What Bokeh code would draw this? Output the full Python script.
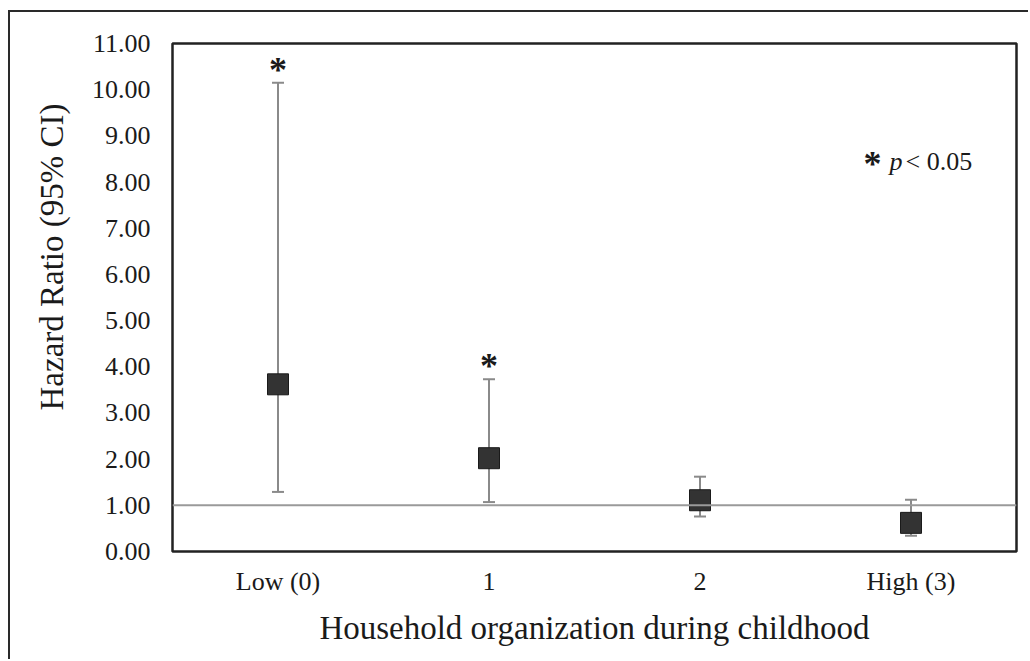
from bokeh.plotting import figure
from bokeh.models import (ColumnDataSource, FactorRange, Range1d, Whisker, TeeHead,
                          Span, FixedTicker, NumeralTickFormatter, Label, Title)
from bokeh.core.properties import value
from bokeh.embed import file_html
from bokeh.resources import INLINE

categories = ["Low (0)", "1", "2", "High (3)"]
hazard_ratio = [3.62, 2.02, 1.11, 0.62]
ci_lower = [1.29, 1.07, 0.76, 0.34]
ci_upper = [10.15, 3.73, 1.62, 1.12]
significant = [True, True, False, False]
y_ticks = list(range(0, 12))
reference_value = 1.0
y_title = "Hazard Ratio (95% CI)"
x_title = "Household organization during childhood"

FONT = "Liberation Serif"
TXT = "#1a1a1a"

src = ColumnDataSource(dict(cat=categories, hr=hazard_ratio, lo=ci_lower, up=ci_upper))
sig_cats = [c for c, s in zip(categories, significant) if s]
sig_up = [u for u, s in zip(ci_upper, significant) if s]
star_src = ColumnDataSource(dict(cat=sig_cats, up=sig_up, t=["*"] * len(sig_cats)))

p = figure(width=1020, height=649, output_backend="svg", toolbar_location=None,
           x_range=FactorRange(factors=categories, range_padding=0),
           y_range=Range1d(0, 11),
           min_border_left=162, min_border_right=14, min_border_top=31, min_border_bottom=110,
           styles={"border-top": "2px solid #2a2a2a", "border-left": "2px solid #2a2a2a",
                   "margin-left": "8px", "margin-top": "10px"})

p.outline_line_color = "#222222"
p.outline_line_width = 2.5
p.xgrid.grid_line_color = None
p.ygrid.grid_line_color = None
p.background_fill_color = "white"
p.border_fill_color = "white"

for ax in (p.xaxis[0], p.yaxis[0]):
    ax.axis_line_color = None
    ax.major_tick_line_color = None
    ax.minor_tick_line_color = None
    ax.major_tick_out = 0
    ax.major_tick_in = 0
    ax.minor_tick_out = 0
    ax.major_label_text_font = FONT
    ax.major_label_text_font_size = "26px"
    ax.major_label_text_color = TXT
    ax.axis_label_text_font = FONT
    ax.axis_label_text_font_size = "33px"
    ax.axis_label_text_font_style = "normal"
    ax.axis_label_text_color = TXT

p.yaxis.ticker = FixedTicker(ticks=y_ticks)
p.yaxis.formatter = NumeralTickFormatter(format="0.00")
p.yaxis.major_label_standoff = 22

p.xaxis.major_label_standoff = 15
p.xaxis.axis_label = x_title
p.xaxis.axis_label_standoff = 11

# y-axis title as a side title, placed like the original
p.add_layout(Title(text=y_title, align="right", offset=60, standoff=38,
                   text_font=FONT, text_font_size="33px", text_font_style="normal",
                   text_color=TXT), "left")

wc = "#8a8a8a"
w = Whisker(source=src, base="cat", lower="lo", upper="up", dimension="height",
            line_color=wc, line_width=2,
            upper_head=TeeHead(size=12, line_color=wc, line_width=2),
            lower_head=TeeHead(size=12, line_color=wc, line_width=2),
            level="underlay")
p.add_layout(w)

p.scatter(x="cat", y="hr", source=src, marker="square", size=21,
          fill_color="#333333", line_color="#1a1a1a", line_width=1)

p.add_layout(Span(location=reference_value, dimension="width",
                  line_color="#9a9a9a", line_width=2, level="overlay"))

p.text(x="cat", y="up", text="t", source=star_src, text_font=value(FONT),
       text_font_size="36px", text_font_style="bold", text_color=TXT,
       text_align="center", text_baseline="alphabetic", y_offset=-13)

p.add_layout(Label(x=3.318, y=8.40, text="*", text_font=FONT, text_font_size="36px",
                   text_font_style="bold", text_color=TXT, text_align="center",
                   text_baseline="alphabetic"))
p.add_layout(Label(x=3.398, y=8.45, text="p", text_font=FONT, text_font_size="26px",
                   text_font_style="italic", text_color=TXT, text_align="left",
                   text_baseline="alphabetic"))
p.add_layout(Label(x=3.474, y=8.45, text="< 0.05", text_font=FONT, text_font_size="26px",
                   text_color=TXT, text_align="left", text_baseline="alphabetic"))

open("out.html", "w").write(file_html(p, INLINE))
